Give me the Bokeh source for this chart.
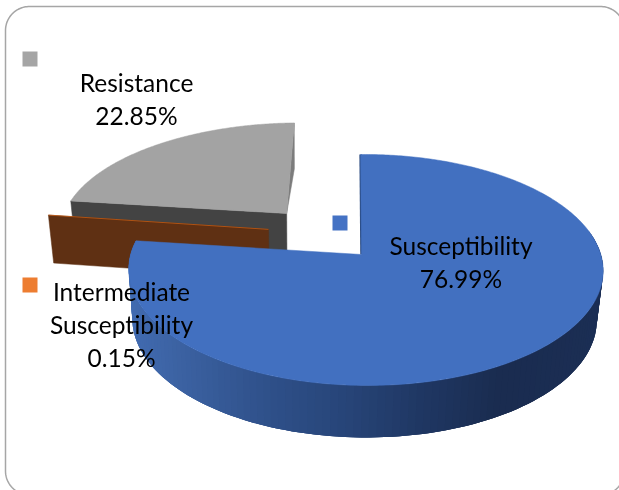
import numpy as np
from bokeh.embed import file_html
from bokeh.models import Range1d
from bokeh.plotting import figure
from bokeh.resources import INLINE
from bokeh.core.properties import value

categories = ["Susceptibility", "Intermediate Susceptibility", "Resistance"]
shares = [76.99, 0.15, 22.85]
label_lines = [["Susceptibility", "76.99%"], ["Intermediate", "Susceptibility", "0.15%"], ["Resistance", "22.85%"]]

W, H = 619, 490
p = figure(width=W, height=H, output_backend="svg", toolbar_location=None,
           x_range=Range1d(0, W), y_range=Range1d(H, 0), min_border=0,
           outline_line_color=None, background_fill_color="white")
p.styles = {"position": "fixed", "left": "0px", "top": "0px"}
p.axis.visible = False
p.grid.visible = False

X0, Y0, RX, RY, K, J, T = 361.0, 254.0, 235.0, 113.4, 0.134, 0.018, 1.0


def project(u, v):
    w = 1 + K * np.asarray(v) - J * np.asarray(u)
    return X0 + (RX * np.asarray(u) - T * np.asarray(v)) / w, Y0 - RY * np.asarray(v) / w


def drop(x, y):
    return 300 + 0.979 * (np.asarray(x) - 300), np.asarray(y) + 48 + (np.asarray(y) - 216) * 0.0237


total = sum(shares)
edges = np.cumsum([0] + shares) / total * 2 * np.pi
offsets = [(0.0, 0.0), (-0.41, 0.23), (-0.335, 0.382)]
reach = [(1.0, 1.0), (1.03, 1.15), (1.025, 1.0)]


def rim(i, n=200):
    t = np.linspace(edges[i], edges[i + 1], n)
    return project(offsets[i][0] + reach[i][0] * np.sin(t), offsets[i][1] + reach[i][1] * np.cos(t))


def hub(i):
    return project(offsets[i][0], offsets[i][1])


# rounded frame
BL, BT, BR, BB, CR = 5, 6, 624, 494.5, 24
a = np.linspace(0, np.pi / 2, 30)
fx = np.concatenate([BL + CR - CR * np.cos(a), BR - CR + CR * np.sin(a), BR - CR + CR * np.cos(a), BL + CR - CR * np.sin(a), [BL]])
fy = np.concatenate([BT + CR - CR * np.sin(a), BT + CR - CR * np.cos(a), BB - CR + CR * np.sin(a), BB - CR + CR * np.cos(a), [BT + CR]])
p.line(fx, fy, line_color="#a6a6a6", line_width=1.5)

# gray slice
hx, hy = hub(2)
rx, ry = rim(2)
bx, by = drop([rx[0], hx], [ry[0], hy])
p.patch([rx[0], hx, bx[1], bx[0]], [ry[0], hy, by[1], by[0]], fill_color="#434343", line_color="#434343", line_width=0.5)
sx, sy = drop(rx[-1], ry[-1])
p.patch([rx[-1], sx, hx], [ry[-1], sy, hy], fill_color="#7c7c7c", line_color="#7c7c7c", line_width=0.5)
p.patch(np.r_[hx, rx], np.r_[hy, ry], fill_color="#a3a3a3", line_color="#a3a3a3", line_width=0.5)

# orange slice (its cut face)
hx, hy = hub(1)
rx, ry = rim(1, 4)
bx, by = drop([rx[0], hx], [ry[0], hy])
p.patch([rx[0], hx, bx[1], bx[0]], [ry[0], hy, by[1], by[0]], fill_color="#5f3013", line_color="#5f3013", line_width=0.5)
p.line([rx[0], hx], [ry[0], hy], line_color="#c55a11", line_width=0.8)

# blue slice wall: overlapping bands so no seams show
t = np.radians(np.linspace(78, np.degrees(edges[1]), 120))
tx, ty = project(np.sin(t), np.cos(t))
lx, ly = drop(tx, ty)
shade_x = [125, 180, 260, 340, 420, 500, 610]
shade_c = [(66, 108, 178), (60, 98, 162), (48, 82, 140), (40, 70, 122), (32, 56, 100), (26, 44, 80), (28, 47, 85)]
qx, qy, qc = [], [], []
for i in range(len(t) - 1):
    j = min(i + 3, len(t) - 1)
    mx = (tx[i] + tx[i + 1]) / 2
    c = [int(np.interp(mx, shade_x, [s[k] for s in shade_c])) for k in range(3)]
    qx.append(list(tx[i:j + 1]) + list(lx[i:j + 1][::-1]))
    qy.append(list(ty[i:j + 1]) + list(ly[i:j + 1][::-1]))
    qc.append("#%02x%02x%02x" % tuple(c))
p.patches(qx, qy, fill_color=qc, line_color=None)

# blue top
hx, hy = hub(0)
rx, ry = rim(0, 400)
p.line([rx[0], hx], [ry[0], hy], line_color="#2a4a80", line_width=2.5)
p.patch(np.r_[hx, rx], np.r_[hy, ry], fill_color="#4270c0", line_color="#4270c0", line_width=0.5)

# legend keys
key_colors = ["#4472c4", "#ed7d31", "#a5a5a5"]
key_x = [339.5, 29.5, 29.5]
key_y = [222.5, 284.5, 58.5]
p.rect(key_x, key_y, width=15, height=15, fill_color=key_colors, line_color=None)

# labels
label_cx = [460.5, 121, 136]
label_y0 = [245, 291, 82]
STEP = 33
for lines, cx, y0 in zip(label_lines, label_cx, label_y0):
    ys = [y0 + STEP * i for i in range(len(lines))]
    p.text([cx] * len(lines), ys, text=lines, text_align="center", text_baseline="middle",
           text_font=value("Lato"), text_font_size="24.5px", text_color="#000000")

open("out.html", "w").write(file_html(p, INLINE))
